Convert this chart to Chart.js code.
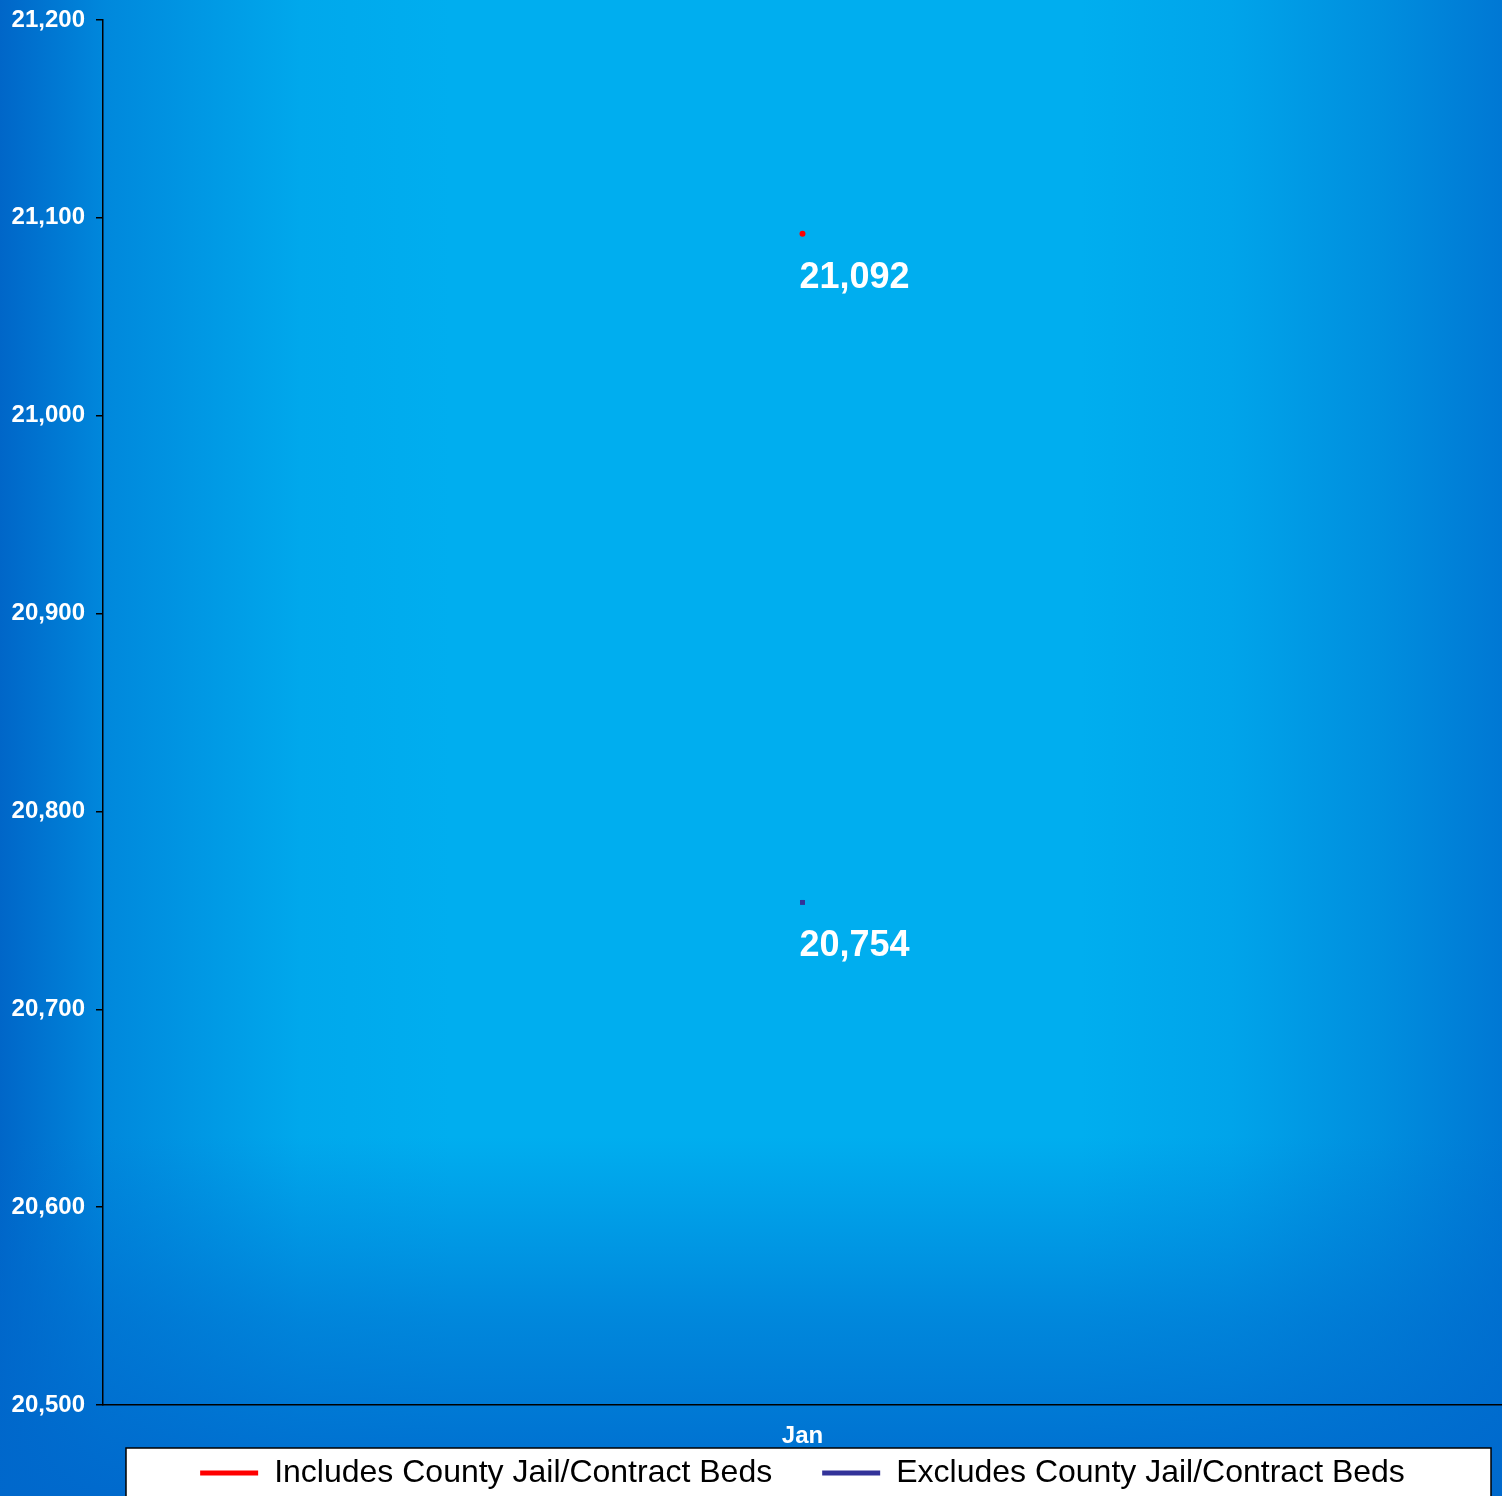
<!DOCTYPE html>
<html>
<head>
<meta charset="utf-8">
<script src="https://cdn.jsdelivr.net/npm/chart.js@4"></script>
<style>
  html, body { margin: 0; padding: 0; overflow: hidden; }
  body {
    width: 1502px; height: 1496px;
    background:
      linear-gradient(to bottom, rgba(0, 104, 204, 0) 0%, rgba(0, 104, 204, 0) 76%, rgba(0, 104, 204, 0.55) 88%, rgba(0, 104, 204, 0.95) 100%),
      linear-gradient(to right, #0066c8 0%, #0088dc 7%, #00a8ec 20%, #00aeef 30%, #00aeef 72%, #00a4ea 82%, #008ede 92%, #0078d4 100%);
  }
  #wrap { position: relative; width: 1502px; height: 1499px; }
</style>
</head>
<body>
<div id="wrap"><canvas id="line"></canvas></div>
<script>
/* datos */
const months = ["Jan"];
const includesBeds = [21092];
const excludesBeds = [20754];
const seriesNames = ["Includes County Jail/Contract Beds", "Excludes County Jail/Contract Beds"];
const yMin = 20500;
const yMax = 21200;
const yStep = 100;

const fmt = (v) => v.toLocaleString("en-US");

/* caja blanca de la leyenda */
const legendBox = {
  id: "legendBox",
  beforeDraw(chart) {
    const { ctx, chartArea } = chart;
    const left = chartArea.left + 23;
    const right = chart.width - 11;
    const top = chartArea.bottom + 43;
    ctx.save();
    ctx.fillStyle = "#ffffff";
    ctx.fillRect(left, top, right - left, 200);
    ctx.strokeStyle = "#000000";
    ctx.lineWidth = 1.5;
    ctx.strokeRect(left, top, right - left, 200);
    ctx.restore();
  },
};

/* etiquetas de valores */
const valueLabels = {
  id: "valueLabels",
  afterDatasetsDraw(chart) {
    const { ctx } = chart;
    ctx.save();
    ctx.font = "bold 36px 'Liberation Sans', Arial, sans-serif";
    ctx.fillStyle = "#ffffff";
    ctx.textAlign = "left";
    ctx.textBaseline = "middle";
    chart.data.datasets.forEach((ds, i) => {
      const meta = chart.getDatasetMeta(i);
      meta.data.forEach((pt, j) => {
        ctx.fillText(fmt(ds.data[j]), pt.x - 3, pt.y + 44);
      });
    });
    ctx.restore();
  },
};

const ctx = document.getElementById("line").getContext("2d");

const config = {
  type: "line",
  data: {
    labels: months,
    datasets: [
      {
        label: seriesNames[0],
        data: includesBeds,
        borderColor: "#ff0000",
        backgroundColor: "#ff0000",
        borderWidth: 5,
        pointStyle: "circle",
        pointRadius: 3,
        pointBorderWidth: 0,
      },
      {
        label: seriesNames[1],
        data: excludesBeds,
        borderColor: "#333399",
        backgroundColor: "#333399",
        borderWidth: 5,
        pointStyle: "rect",
        pointRadius: 3.5,
        pointBorderWidth: 0,
      },
    ],
  },
  options: {
    responsive: true,
    maintainAspectRatio: false,
    animation: false,
    layout: { autoPadding: false, padding: { top: 20, right: 0, left: 0, bottom: 0 } },
    plugins: {
      tooltip: { enabled: false },
      legend: {
        position: "bottom",
        fullSize: false,
        labels: {
          boxWidth: 58,
          boxHeight: 5,
          padding: 50,
          color: "#000000",
          font: { family: "'Liberation Sans', Arial, sans-serif", size: 32 },
          generateLabels(chart) {
            return chart.data.datasets.map((ds, i) => ({
              text: ds.label,
              fillStyle: ds.borderColor,
              strokeStyle: ds.borderColor,
              lineWidth: 0,
              datasetIndex: i,
            }));
          },
        },
      },
    },
    scales: {
      x: {
        offset: true,
        grid: { display: false },
        border: { color: "#000000", width: 1.5 },
        ticks: {
          color: "#ffffff",
          mirror: true,
          padding: -46,
          autoSkip: false,
          maxRotation: 0,
          font: { family: "'Liberation Sans', Arial, sans-serif", size: 24, weight: "bold" },
        },
        afterFit(scale) { scale.height = 2; },
      },
      y: {
        min: yMin,
        max: yMax,
        grid: { drawOnChartArea: false, drawTicks: true, tickLength: 7, color: "#000000", lineWidth: 1.5 },
        border: { color: "#000000", width: 1.5 },
        ticks: {
          stepSize: yStep,
          color: "#ffffff",
          padding: 11,
          callback: (v) => fmt(v),
          font: { family: "'Liberation Sans', Arial, sans-serif", size: 24, weight: "bold", lineHeight: 0.7 },
        },
        afterFit(scale) { scale.width = 103; },
      },
    },
  },
  plugins: [legendBox, valueLabels],
};

new Chart(ctx, config);
</script>
</body>
</html>
